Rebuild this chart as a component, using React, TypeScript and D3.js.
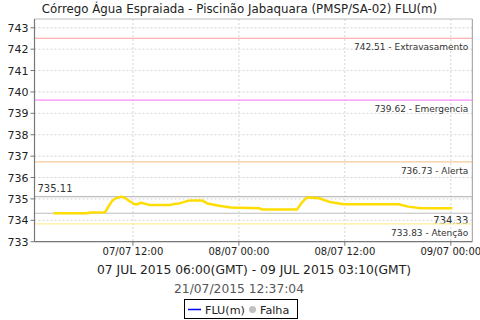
import React from "react";
import * as d3 from "d3";

const title = "Córrego Água Espraiada - Piscinão Jabaquara (PMSP/SA-02) FLU(m)";
const subtitle = "07 JUL 2015 06:00(GMT) - 09 JUL 2015 03:10(GMT)";
const stamp = "21/07/2015 12:37:04";

const times = [
  "2015-07-07T03:00", "2015-07-07T06:55", "2015-07-07T07:05", "2015-07-07T08:50",
  "2015-07-07T09:10", "2015-07-07T09:35", "2015-07-07T09:55", "2015-07-07T10:40",
  "2015-07-07T11:05", "2015-07-07T11:35", "2015-07-07T12:10", "2015-07-07T12:30",
  "2015-07-07T12:55", "2015-07-07T13:20", "2015-07-07T13:55", "2015-07-07T16:05",
  "2015-07-07T16:50", "2015-07-07T17:15", "2015-07-07T18:25", "2015-07-07T19:50",
  "2015-07-07T20:25", "2015-07-07T21:45", "2015-07-07T23:05", "2015-07-08T02:20",
  "2015-07-08T02:35", "2015-07-08T06:35", "2015-07-08T07:05", "2015-07-08T07:35",
  "2015-07-08T07:55", "2015-07-08T09:05", "2015-07-08T10:10", "2015-07-08T11:20",
  "2015-07-08T11:55", "2015-07-08T18:05", "2015-07-08T19:10", "2015-07-08T20:40",
  "2015-07-09T00:10",
];
const flu = [
  734.33, 734.33, 734.37, 734.38,
  734.6, 734.87, 735.0, 735.11,
  735.05, 734.9, 734.75, 734.75,
  734.82, 734.78, 734.71, 734.71,
  734.77, 734.79, 734.93, 734.93,
  734.79, 734.68, 734.6, 734.56,
  734.51, 734.51, 734.8, 735.03,
  735.07, 735.03, 734.87, 734.79,
  734.75, 734.75, 734.64, 734.56,
  734.56,
];

const refValues = [742.51, 739.62, 736.73, 733.83];
const refNames = ["Extravasamento", "Emergencia", "Alerta", "Atenção"];
const refColors = ["#ff9a9a", "#ff8cff", "#f5c99a", "#ffee99"];

const maxValue = 735.11;
const minValue = 734.33;

const yTicks = [733, 734, 735, 736, 737, 738, 739, 740, 741, 742, 743];
const xTickTimes = ["2015-07-07T12:00", "2015-07-08T00:00", "2015-07-08T12:00", "2015-07-09T00:00"];
const xDomain = ["2015-07-07T00:51", "2015-07-09T02:26"];
const yDomain = [733, 743.41];

const parse = d3.utcParse("%Y-%m-%dT%H:%M");
const fmt = d3.utcFormat("%d/%m %H:%M");
const FONT = "DejaVu Sans, sans-serif";

export default function App() {
  const L = 34.5, R = 472.3, T = 19, B = 241.7;
  const x = d3.scaleUtc().domain(xDomain.map((s) => parse(s)!)).range([L, R]);
  const y = d3.scaleLinear().domain(yDomain).range([B, T]);
  const data = times.map((t, i) => ({ t: parse(t)!, v: flu[i] }));
  const line = d3.line<{ t: Date; v: number }>().x((d) => x(d.t)).y((d) => y(d.v));
  const xt = xTickTimes.map((s) => parse(s)!);

  return (
    <svg width={480} height={320} style={{ position: "absolute", left: 0, top: 0, background: "#fff" }} fontFamily={FONT}>
      <rect x={0} y={0} width={480} height={320} fill="#fff" />
      <text x={239.5} y={13} textAnchor="middle" fontSize={11.8} fill="#222">{title}</text>

      {/* grid */}
      {yTicks.map((v) => (
        <line key={"gy" + v} x1={L} x2={R} y1={y(v)} y2={y(v)} stroke="#d4d4d4" strokeDasharray="2,2" strokeWidth={1} />
      ))}
      {xt.map((d, i) => (
        <line key={"gx" + i} x1={x(d)} x2={x(d)} y1={T} y2={B} stroke="#d4d4d4" strokeDasharray="2,2" strokeWidth={1} />
      ))}

      {/* border */}
      <line x1={L} x2={R} y1={T} y2={T} stroke="#bbb" />
      <line x1={R} x2={R} y1={T} y2={B} stroke="#999" />

      {/* max/min lines */}
      <line x1={L} x2={R} y1={y(maxValue)} y2={y(maxValue)} stroke="#bdbdbd" strokeWidth={1.2} />
      <line x1={L} x2={R} y1={y(minValue)} y2={y(minValue)} stroke="#bdbdbd" strokeWidth={1.2} />
      <text x={L + 3} y={y(maxValue) - 5} fontSize={10} fill="#333">{maxValue.toFixed(2)}</text>
      <text x={R - 4} y={y(minValue) + 11} fontSize={10} fill="#333" textAnchor="end">{minValue.toFixed(2)}</text>

      {/* reference lines */}
      {refValues.map((v, i) => (
        <g key={"r" + i}>
          <line x1={L} x2={R} y1={y(v)} y2={y(v)} stroke={refColors[i]} strokeWidth={1.2} />
          <text x={R - 4} y={y(v) + 12} fontSize={9} fill="#333" textAnchor="end">{`${v.toFixed(2)} - ${refNames[i]}`}</text>
        </g>
      ))}

      {/* data */}
      <path d={line(data)!} fill="none" stroke="#ffdd00" strokeWidth={2.5} strokeLinejoin="round" />

      {/* axes */}
      <line x1={L} x2={L} y1={T} y2={B} stroke="#777" strokeWidth={1.2} />
      <line x1={L} x2={R} y1={B} y2={B} stroke="#777" strokeWidth={1.2} />
      {yTicks.map((v) => (
        <g key={"ty" + v}>
          <line x1={L - 4} x2={L} y1={y(v)} y2={y(v)} stroke="#777" />
          <text x={L - 6} y={y(v) + 4} fontSize={11} textAnchor="end" fill="#222">{v}</text>
        </g>
      ))}
      {xt.map((d, i) => (
        <g key={"tx" + i}>
          <line x1={x(d)} x2={x(d)} y1={B} y2={B + 4} stroke="#777" />
          <text x={x(d)} y={B + 13} fontSize={10} textAnchor="middle" fill="#222">{fmt(d)}</text>
        </g>
      ))}

      <text x={254} y={274} textAnchor="middle" fontSize={12.3} fill="#222">{subtitle}</text>
      <text x={239} y={293} textAnchor="middle" fontSize={12.3} fill="#555">{stamp}</text>

      {/* legend */}
      <rect x={184.5} y={299.5} width={113} height={19} fill="#fff" stroke="#000" />
      <line x1={188} x2={201} y1={309.5} y2={309.5} stroke="#0000ff" strokeWidth={1.5} />
      <text x={205} y={313.5} fontSize={11.2} fill="#222">FLU(m)</text>
      <circle cx={252.5} cy={309.5} r={3.5} fill="#c0c0c0" />
      <text x={260} y={313.5} fontSize={11.2} fill="#222">Falha</text>
    </svg>
  );
}
